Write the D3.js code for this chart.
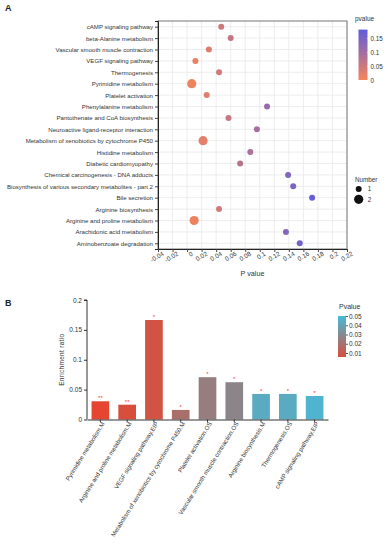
<!DOCTYPE html>
<html>
<head>
<meta charset="utf-8">
<script src="https://cdn.jsdelivr.net/npm/d3@7"></script>
<style>
  html, body { margin: 0; padding: 0; background: #fff; }
  svg { display: block; font-family: "Liberation Sans", Arial, sans-serif; }
</style>
</head>
<body>
<svg id="chart" width="388" height="550"></svg>
<script>
// Panel A: KEGG bubble chart
const pathwaysA = [
  "cAMP signaling pathway",
  "beta-Alanine metabolism",
  "Vascular smooth muscle contraction",
  "VEGF signaling pathway",
  "Thermogenesis",
  "Pyrimidine metabolism",
  "Platelet activation",
  "Phenylalanine metabolism",
  "Pantothenate and CoA biosynthesis",
  "Neuroactive ligand-receptor interaction",
  "Metabolism of xenobiotics by cytochrome P450",
  "Histidine metabolism",
  "Diabetic cardiomyopathy",
  "Chemical carcinogenesis - DNA adducts",
  "Biosynthesis of various secondary metabolites - part 2",
  "Bile secretion",
  "Arginine biosynthesis",
  "Arginine and proline metabolism",
  "Arachidonic acid metabolism",
  "Aminobenzoate degradation"
]
const pvalA = [0.047, 0.060, 0.030, 0.0115, 0.044, 0.0064, 0.027, 0.110, 0.057, 0.096,
  0.022, 0.087, 0.073, 0.139, 0.146, 0.172, 0.044, 0.0097, 0.136, 0.155]
const countA = [1, 1, 1, 1, 1, 2, 1, 1, 1, 1, 2, 1, 1, 1, 1, 1, 1, 2, 1, 1]
const xTicksA = [-0.04, -0.02, 0, 0.02, 0.04, 0.06, 0.08, 0.1, 0.12, 0.14, 0.16, 0.18, 0.2, 0.22]
const pLegendTicks = [0, 0.05, 0.1, 0.15]

// Panel B: enrichment bars
const pathwaysB = [
  "Pyrimidine metabolism.M",
  "Arginine and proline metabolism.M",
  "VEGF signaling pathway.EIP",
  "Metabolism of xenobiotics by cytochrome P450.M",
  "Platelet activation.OS",
  "Vascular smooth muscle contraction.OS",
  "Arginine biosynthesis.M",
  "Thermogenesis.OS",
  "cAMP signaling pathway.EIP"
]
const ratioB = [0.0305, 0.0248, 0.1665, 0.016, 0.0708, 0.0624, 0.0428, 0.0428, 0.0394]
const pvalB = [0.0064, 0.0097, 0.0115, 0.022, 0.027, 0.030, 0.044, 0.044, 0.047]
const starsB = ["**", "**", "*", "*", "*", "*", "*", "*", "*"]
const yTicksB = [0, 0.05, 0.1, 0.15, 0.2]
const pLegendTicksB = [0.01, 0.02, 0.03, 0.04, 0.05]

const svg = d3.select("#chart")
const fmt = d => String(+d.toFixed(2))

// ---------- Panel A ----------
const A = { left: 158, right: 347, top: 21, bottom: 249 }

const xA = d3.scaleLinear().domain([-0.04, 0.22]).range([A.left, A.right])
const yA = d3.scalePoint().domain(pathwaysA).range([A.top, A.bottom]).padding(0.5)
const colorA = d3.scaleLinear().domain([0, 0.18]).range(["#f5845a", "#5f5cdc"])
const rA = d3.scaleLinear().domain([1, 2]).range([3, 4.6])

svg.append("text").attr("x", 5).attr("y", 11)
  .attr("font-size", 9).attr("font-weight", 700).attr("fill", "#222").text("A")

const gA = svg.append("g")

// grid
gA.append("g").selectAll("line")
  .data(xTicksA)
  .join("line")
  .attr("x1", d => xA(d)).attr("x2", d => xA(d))
  .attr("y1", A.top).attr("y2", A.bottom)
  .attr("stroke", "#e8e8e8").attr("stroke-width", 0.8)

gA.append("g").selectAll("line")
  .data(pathwaysA)
  .join("line")
  .attr("x1", A.left).attr("x2", A.right)
  .attr("y1", d => yA(d)).attr("y2", d => yA(d))
  .attr("stroke", "#e8e8e8").attr("stroke-width", 0.8)

gA.append("rect")
  .attr("x", A.left).attr("y", A.top)
  .attr("width", A.right - A.left).attr("height", A.bottom - A.top)
  .attr("fill", "none").attr("stroke", "#777").attr("stroke-width", 1)

// y axis
const yAxisA = gA.append("g")
  .attr("transform", `translate(${A.left},0)`)
  .call(d3.axisLeft(yA).tickSize(3).tickPadding(2))
yAxisA.select(".domain").attr("stroke", "#222")
yAxisA.selectAll(".tick line").attr("stroke", "#444")
yAxisA.selectAll("text").attr("font-size", 6.1).attr("fill", "#333").attr("font-family", null)

// x axis
const xAxisA = gA.append("g")
  .attr("transform", `translate(0,${A.bottom})`)
  .call(d3.axisBottom(xA).tickValues(xTicksA).tickFormat(fmt).tickSize(3))
xAxisA.select(".domain").attr("stroke", "#222")
xAxisA.selectAll(".tick line").attr("stroke", "#444")
xAxisA.selectAll("text")
  .attr("font-size", 6.3).attr("fill", "#333").attr("font-family", null)
  .attr("text-anchor", "end")
  .attr("dy", "0.35em").attr("y", 6).attr("x", 2)
  .attr("transform", "rotate(-30)")

svg.append("text")
  .attr("x", (A.left + A.right) / 2).attr("y", 276)
  .attr("text-anchor", "middle").attr("font-size", 7.2).attr("fill", "#333")
  .text("P value")

// points
gA.append("g").selectAll("circle")
  .data(pathwaysA)
  .join("circle")
  .attr("cx", (d, i) => xA(pvalA[i]))
  .attr("cy", d => yA(d))
  .attr("r", (d, i) => rA(countA[i]))
  .attr("fill", (d, i) => colorA(pvalA[i]))

// colour legend A
const defs = svg.append("defs")
const gradA = defs.append("linearGradient").attr("id", "gradA")
  .attr("x1", 0).attr("y1", 1).attr("x2", 0).attr("y2", 0)
gradA.append("stop").attr("offset", 0).attr("stop-color", colorA(0))
gradA.append("stop").attr("offset", 1).attr("stop-color", colorA(0.18))

const legA = d3.scaleLinear().domain([0, 0.15]).range([80, 38])
svg.append("text").attr("x", 355).attr("y", 21)
  .attr("font-size", 6.5).attr("fill", "#333").text("pvalue")
svg.append("rect")
  .attr("x", 358.5).attr("y", legA(0.18)).attr("width", 9)
  .attr("height", legA(0) - legA(0.18))
  .attr("fill", "url(#gradA)")
const legAxisA = svg.append("g")
  .attr("transform", "translate(367.5,0)")
  .call(d3.axisRight(legA).tickValues(pLegendTicks).tickFormat(fmt).tickSize(2).tickPadding(1))
legAxisA.select(".domain").remove()
legAxisA.selectAll(".tick line").attr("stroke", "#fff")
legAxisA.selectAll("text").attr("font-size", 6.3).attr("fill", "#333").attr("font-family", null)

// size legend
svg.append("text").attr("x", 355).attr("y", 182)
  .attr("font-size", 6.3).attr("fill", "#333").text("Number")
const sizeLeg = svg.append("g").selectAll("g")
  .data([1, 2])
  .join("g")
  .attr("transform", (d, i) => `translate(358.7,${189 + i * 10.3})`)
sizeLeg.append("circle").attr("r", d => rA(d)).attr("fill", "#111")
sizeLeg.append("text").attr("x", 9).attr("dy", "0.35em")
  .attr("font-size", 6.3).attr("fill", "#333").text(d => d)

// ---------- Panel B ----------
const B = { left: 87, right: 328, top: 300, bottom: 419.5 }

svg.append("text").attr("x", 5).attr("y", 306)
  .attr("font-size", 9).attr("font-weight", 700).attr("fill", "#222").text("B")

const xB = d3.scaleBand().domain(pathwaysB).range([B.left, B.right])
  .paddingInner(0.34).paddingOuter(0.17)
const yB = d3.scaleLinear().domain([0, 0.2]).range([B.bottom, B.top])
const colorB = d3.scaleLinear().domain([0.005, 0.03, 0.05])
  .range(["#ea412c", "#8b8589", "#45bbdb"]).clamp(true)

const gB = svg.append("g")

gB.append("g").selectAll("rect")
  .data(pathwaysB)
  .join("rect")
  .attr("x", d => xB(d))
  .attr("width", xB.bandwidth())
  .attr("y", (d, i) => yB(ratioB[i]))
  .attr("height", (d, i) => yB(0) - yB(ratioB[i]))
  .attr("fill", (d, i) => colorB(pvalB[i]))

gB.append("g").selectAll("text")
  .data(pathwaysB)
  .join("text")
  .attr("x", d => xB(d) + xB.bandwidth() / 2)
  .attr("y", (d, i) => yB(ratioB[i]) - 1)
  .attr("text-anchor", "middle")
  .attr("font-size", 6).attr("fill", "#ff3030")
  .text((d, i) => starsB[i])

const yAxisB = gB.append("g")
  .attr("transform", `translate(${B.left},0)`)
  .call(d3.axisLeft(yB).tickValues(yTicksB).tickFormat(fmt).tickSize(3).tickPadding(2))
yAxisB.select(".domain").attr("stroke", "#333").attr("d", `M-3,${B.top}H0V${B.bottom}`)
yAxisB.selectAll(".tick line").attr("stroke", "#333")
yAxisB.selectAll("text").attr("font-size", 6.5).attr("fill", "#333").attr("font-family", null)

const xAxisB = gB.append("g")
  .attr("transform", `translate(0,${B.bottom})`)
  .call(d3.axisBottom(xB).tickSize(3).tickSizeOuter(0))
xAxisB.select(".domain").attr("stroke", "#333")
xAxisB.selectAll(".tick line").attr("stroke", "#333")
xAxisB.selectAll("text")
  .attr("font-size", 6.1).attr("fill", "#333").attr("font-family", null)
  .attr("text-anchor", "end")
  .attr("dy", "0.35em").attr("y", 4).attr("x", -1)
  .attr("transform", "rotate(-58)")

svg.append("text")
  .attr("transform", `translate(64,${(B.top + B.bottom) / 2}) rotate(-90)`)
  .attr("text-anchor", "middle").attr("font-size", 6.5).attr("fill", "#333")
  .attr("letter-spacing", 0.3)
  .text("Enrichment ratio")

// colour legend B
const gradB = defs.append("linearGradient").attr("id", "gradB")
  .attr("x1", 0).attr("y1", 1).attr("x2", 0).attr("y2", 0)
;[0.01, 0.03, 0.05].forEach((v, i) => {
  gradB.append("stop").attr("offset", i / 2).attr("stop-color", colorB(v))
})
const legB = d3.scaleLinear().domain([0.01, 0.05]).range([353, 316])
svg.append("text").attr("x", 339).attr("y", 309)
  .attr("font-size", 7).attr("fill", "#333").text("Pvalue")
svg.append("rect")
  .attr("x", 338).attr("y", 316).attr("width", 8).attr("height", 41)
  .attr("fill", "url(#gradB)")
const legAxisB = svg.append("g")
  .attr("transform", "translate(346,0)")
  .call(d3.axisRight(legB).tickValues(pLegendTicksB).tickFormat(fmt).tickSize(2).tickPadding(1))
legAxisB.select(".domain").remove()
legAxisB.selectAll(".tick line").attr("stroke", "#555")
legAxisB.selectAll("text").attr("font-size", 6.5).attr("fill", "#333").attr("font-family", null)
</script>
</body>
</html>
